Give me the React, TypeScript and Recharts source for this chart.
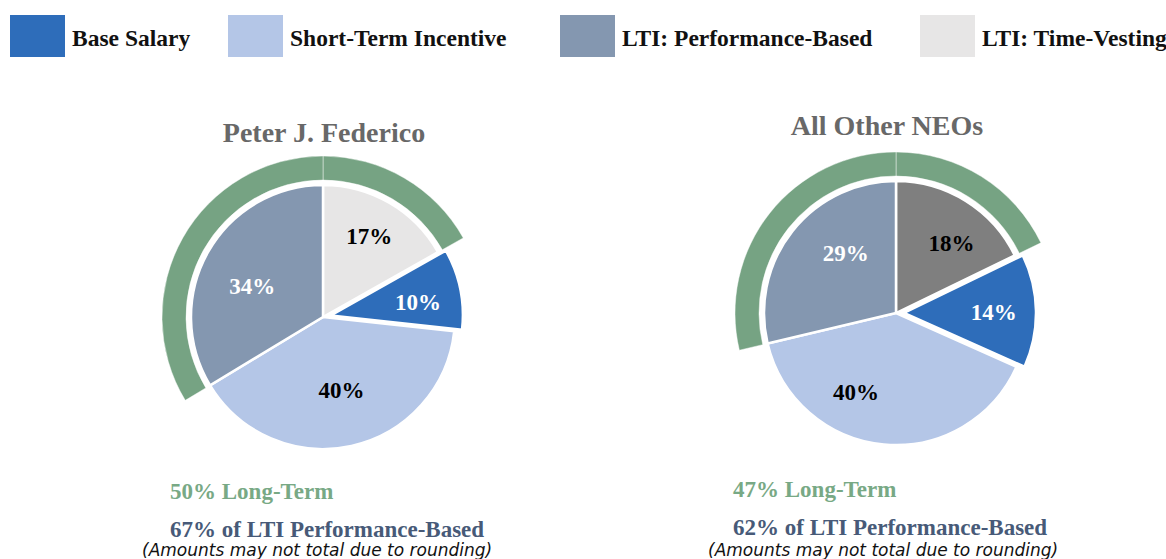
import { PieChart, Pie, Cell } from "recharts";

// legend order
const CATEGORIES = ['Base Salary', 'Short-Term Incentive', 'LTI: Performance-Based', 'LTI: Time-Vesting'];
const FEDERICO_PCT = [10, 40, 34, 17];
const OTHER_NEOS_PCT = [14, 40, 29, 18];
const CHART_TITLES = ['Peter J. Federico', 'All Other NEOs'];
const LONG_TERM_NOTES = ['50% Long-Term', '47% Long-Term'];
const PERF_NOTES = ['67% of LTI Performance-Based', '62% of LTI Performance-Based'];
const ROUNDING_NOTE = '(Amounts may not total due to rounding)';

// slices are drawn clockwise from 12 o'clock in this order
const SLICE_ORDER = [3, 0, 1, 2];
const LONG_TERM_IDX = [2, 3];

const COLORS = ['#2E6DBA', '#B4C6E7', '#8497B0', '#E7E6E6'];
const TV_DARK = '#7F7F7F';
const LABEL_COLORS = ['#ffffff', '#000000', '#ffffff', '#000000'];
const GREEN = '#76A383';
const SERIF = "'Liberation Serif', 'Times New Roman', serif";
const RAD = Math.PI / 180;

const R = 132;
const EXPLODE = 8;

// label nudges (px) per chart, legend order, to sit where Excel put them
const LABEL_NUDGE = [
  [[3, 4], [0, -10], [4, 12], [3, -6]],
  [[4, 1], [-32, -6], [17, -6], [10, 3]],
];

const buildSlices = (pct: number[], tvColor: string, chart: number) =>
  SLICE_ORDER.map((i) => ({
    name: CATEGORIES[i],
    idx: i,
    value: pct[i],
    fill: i === 3 ? tvColor : COLORS[i],
    labelColor: LABEL_COLORS[i],
    nudge: LABEL_NUDGE[chart][i],
  }));

const renderLabel = (only: 'base' | 'rest') => (props: any) => {
  const { cx, cy, midAngle, outerRadius, value } = props;
  const p = props.payload ?? props;
  const idx = p.idx;
  if ((only === 'base') !== (idx === 0)) return null;
  const r = outerRadius * 0.65;
  const x = cx + r * Math.cos(-midAngle * RAD) + p.nudge[0];
  const y = cy + r * Math.sin(-midAngle * RAD) + p.nudge[1];
  return (
    <text x={x} y={y} textAnchor="middle" dominantBaseline="central" fill={p.labelColor}
      style={{ fontFamily: SERIF, fontWeight: 700, fontSize: 23 }}>
      {`${value}%`}
    </text>
  );
};

function CompPie({ pct, tvColor, cx, cy, chart }: { pct: number[]; tvColor: string; cx: number; cy: number; chart: number }) {
  const slices = buildSlices(pct, tvColor, chart);
  const total = pct.reduce((a, b) => a + b, 0);
  // base salary slice is pulled out a little
  const baseMid = 90 - ((pct[3] + pct[0] / 2) / total) * 360;
  const ex = cx + EXPLODE * Math.cos(baseMid * RAD);
  const ey = cy - EXPLODE * Math.sin(baseMid * RAD);
  return [
    <Pie key={`ring${chart}`} data={slices} dataKey="value" cx={cx} cy={cy} innerRadius={137} outerRadius={161}
      startAngle={90} endAngle={-270} isAnimationActive={false} labelLine={false}>
      {slices.map((s, i) => (
        <Cell key={i} fill={LONG_TERM_IDX.includes(s.idx) ? GREEN : 'transparent'}
          stroke={LONG_TERM_IDX.includes(s.idx) ? 'rgba(255,255,255,0.45)' : 'none'} strokeWidth={1} />
      ))}
    </Pie>,
    <Pie key={`main${chart}`} data={slices} dataKey="value" cx={cx} cy={cy} outerRadius={R}
      startAngle={90} endAngle={-270} isAnimationActive={false} labelLine={false} label={renderLabel('rest')}>
      {slices.map((s, i) => (
        <Cell key={i} fill={s.idx === 0 ? 'transparent' : s.fill} stroke={s.idx === 0 ? 'none' : '#ffffff'} strokeWidth={2.5} />
      ))}
    </Pie>,
    <Pie key={`base${chart}`} data={slices} dataKey="value" cx={ex} cy={ey} outerRadius={R}
      startAngle={90} endAngle={-270} isAnimationActive={false} labelLine={false} label={renderLabel('base')}>
      {slices.map((s, i) => (
        <Cell key={i} fill={s.idx === 0 ? s.fill : 'transparent'} stroke={s.idx === 0 ? '#ffffff' : 'none'} strokeWidth={2.5} />
      ))}
    </Pie>,
  ];
}

const LEGEND_X = [10, 228, 560, 920];
const PIE_CENTERS = [
  { cx: 323, cy: 317, titleX: 324, titleY: 142, noteX: 170, noteY: 499, roundX: 142 },
  { cx: 896, cy: 313, titleX: 887, titleY: 135, noteX: 733, noteY: 497, roundX: 708 },
];

export default function App() {
  return (
    <div style={{ position: 'absolute', left: 0, top: 0, width: 1166, height: 559, background: '#ffffff', overflow: 'hidden' }}>
      <div style={{ position: 'absolute', left: 0, top: 0 }}>
        <PieChart width={1166} height={559} margin={{ top: 0, right: 0, bottom: 0, left: 0 }}>
          {CompPie({ pct: FEDERICO_PCT, tvColor: COLORS[3], cx: PIE_CENTERS[0].cx, cy: PIE_CENTERS[0].cy, chart: 0 })}
          {CompPie({ pct: OTHER_NEOS_PCT, tvColor: TV_DARK, cx: PIE_CENTERS[1].cx, cy: PIE_CENTERS[1].cy, chart: 1 })}
        </PieChart>
      </div>
      <svg width={1166} height={559} style={{ position: 'absolute', left: 0, top: 0, pointerEvents: 'none' }}>
        {CATEGORIES.map((c, i) => (
          <g key={c}>
            <rect x={LEGEND_X[i]} y={15} width={55} height={42} fill={COLORS[i]} />
            <text x={LEGEND_X[i] + 62} y={46} fill="#111" style={{ fontFamily: SERIF, fontWeight: 700, fontSize: 23.5 }}>{c}</text>
          </g>
        ))}
        {PIE_CENTERS.map((p, i) => (
          <g key={i}>
            <text x={p.titleX} y={p.titleY} textAnchor="middle" fill="#686868"
              style={{ fontFamily: SERIF, fontWeight: 700, fontSize: 28 }}>{CHART_TITLES[i]}</text>
            <text x={p.noteX} y={p.noteY} fill="#78A985"
              style={{ fontFamily: SERIF, fontWeight: 700, fontSize: 23 }}>{LONG_TERM_NOTES[i]}</text>
            <text x={p.noteX} y={p.noteY + 38} fill="#475A78"
              style={{ fontFamily: SERIF, fontWeight: 700, fontSize: 23 }}>{PERF_NOTES[i]}</text>
            <text x={p.roundX} y={556} fill="#111"
              style={{ fontFamily: "'DejaVu Sans', Verdana, sans-serif", fontStyle: 'italic', fontSize: 17 }}>{ROUNDING_NOTE}</text>
          </g>
        ))}
      </svg>
    </div>
  );
}
